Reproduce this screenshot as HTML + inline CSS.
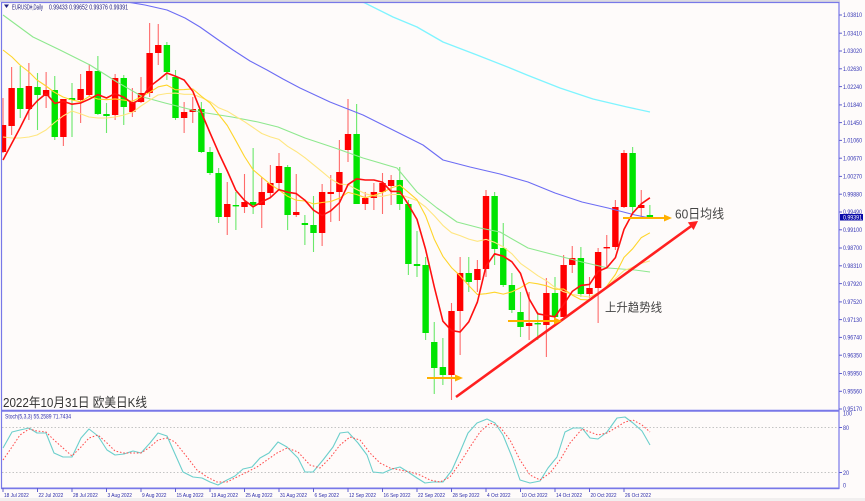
<!DOCTYPE html>
<html><head><meta charset="utf-8">
<style>
html,body{margin:0;padding:0;background:#fefbfa;}
svg{display:block;}
text{font-family:"Liberation Sans","Noto Sans CJK SC",sans-serif;}
</style></head><body>
<svg id="c" width="865" height="501" viewBox="0 0 865 501" xmlns="http://www.w3.org/2000/svg">
<defs>
<clipPath id="cm"><rect x="2" y="3" width="837" height="407"/></clipPath>
<clipPath id="cs"><rect x="2" y="412" width="837" height="76"/></clipPath>
</defs>
<rect x="0" y="0" width="865" height="501" fill="#fefbfa"/>
<rect x="0" y="498" width="865" height="3" fill="#f1efef"/>

<g clip-path="url(#cm)">
  <g id="cand"></g>
  <g id="ma"></g>
</g>

<!-- stoch levels -->
<line x1="2" y1="427.5" x2="839" y2="427.5" stroke="#c4c4c4" stroke-width="1" stroke-dasharray="1.5,2"/>
<line x1="2" y1="472.5" x2="839" y2="472.5" stroke="#c4c4c4" stroke-width="1" stroke-dasharray="1.5,2"/>
<g clip-path="url(#cs)" id="st"></g>

<!-- borders -->
<line x1="0" y1="1" x2="840" y2="1" stroke="#b8b8c8" stroke-width="1"/>
<rect x="1.5" y="2.5" width="837.5" height="486" fill="none" stroke="#7878e8" stroke-width="1.2"/>
<line x1="1.5" y1="410.8" x2="839" y2="410.8" stroke="#7878e8" stroke-width="2"/>
<line x1="1.5" y1="488.3" x2="839" y2="488.3" stroke="#7878e8" stroke-width="1.6"/>

<!-- header -->
<polygon points="4,4.5 9,4.5 6.5,8" fill="#202080"/>
<text x="12" y="9.5" font-size="7" fill="#202080" textLength="31" lengthAdjust="spacingAndGlyphs">EURUSD#,Daily</text>
<text x="49" y="9.5" font-size="7" fill="#202080" textLength="79" lengthAdjust="spacingAndGlyphs">0.99433 0.99652 0.99376 0.99391</text>

<!-- title -->
<text x="3" y="407" font-size="13" fill="#333333" textLength="144" lengthAdjust="spacingAndGlyphs">2022年10月31日 欧美日K线</text>

<!-- annotations -->
<g id="ann"></g>
<text x="675" y="218.5" font-size="13" fill="#444444" textLength="49" lengthAdjust="spacingAndGlyphs">60日均线</text>
<text x="605" y="311.5" font-size="12" fill="#444444" textLength="57" lengthAdjust="spacingAndGlyphs">上升趋势线</text>

<!-- stoch label -->
<text x="5" y="418.5" font-size="6" fill="#3030b0" textLength="66" lengthAdjust="spacingAndGlyphs">Stoch(5,3,3) 55.2589 71.7434</text>

<!-- price axis -->
<g stroke="#6060d0" stroke-width="1" id="ticks"></g>
<g font-size="6" fill="#3535b5">
<text x="843" y="17.2" textLength="19" lengthAdjust="spacingAndGlyphs">1.03810</text>
<text x="843" y="35.4" textLength="19" lengthAdjust="spacingAndGlyphs">1.03410</text>
<text x="843" y="53.2" textLength="19" lengthAdjust="spacingAndGlyphs">1.03020</text>
<text x="843" y="71" textLength="19" lengthAdjust="spacingAndGlyphs">1.02630</text>
<text x="843" y="88.8" textLength="19" lengthAdjust="spacingAndGlyphs">1.02240</text>
<text x="843" y="107.1" textLength="19" lengthAdjust="spacingAndGlyphs">1.01840</text>
<text x="843" y="124.8" textLength="19" lengthAdjust="spacingAndGlyphs">1.01450</text>
<text x="843" y="142.6" textLength="19" lengthAdjust="spacingAndGlyphs">1.01060</text>
<text x="843" y="160.4" textLength="19" lengthAdjust="spacingAndGlyphs">1.00670</text>
<text x="843" y="178.6" textLength="19" lengthAdjust="spacingAndGlyphs">1.00270</text>
<text x="843" y="196.4" textLength="19" lengthAdjust="spacingAndGlyphs">0.99880</text>
<text x="843" y="214.2" textLength="19" lengthAdjust="spacingAndGlyphs">0.99490</text>
<text x="843" y="232" textLength="19" lengthAdjust="spacingAndGlyphs">0.99100</text>
<text x="843" y="250.2" textLength="19" lengthAdjust="spacingAndGlyphs">0.98700</text>
<text x="843" y="268" textLength="19" lengthAdjust="spacingAndGlyphs">0.98310</text>
<text x="843" y="285.8" textLength="19" lengthAdjust="spacingAndGlyphs">0.97920</text>
<text x="843" y="304.1" textLength="19" lengthAdjust="spacingAndGlyphs">0.97520</text>
<text x="843" y="321.8" textLength="19" lengthAdjust="spacingAndGlyphs">0.97130</text>
<text x="843" y="339.6" textLength="19" lengthAdjust="spacingAndGlyphs">0.96740</text>
<text x="843" y="357.4" textLength="19" lengthAdjust="spacingAndGlyphs">0.96350</text>
<text x="843" y="375.7" textLength="19" lengthAdjust="spacingAndGlyphs">0.95950</text>
<text x="843" y="393.5" textLength="19" lengthAdjust="spacingAndGlyphs">0.95560</text>
<text x="843" y="411.2" textLength="19" lengthAdjust="spacingAndGlyphs">0.95170</text>
<text x="843" y="415.5" textLength="9" lengthAdjust="spacingAndGlyphs">100</text>
<text x="843" y="430" textLength="6" lengthAdjust="spacingAndGlyphs">80</text>
<text x="843" y="475" textLength="6" lengthAdjust="spacingAndGlyphs">20</text>
<text x="843" y="487.5" textLength="3" lengthAdjust="spacingAndGlyphs">0</text>
</g>
<rect x="840" y="214" width="23" height="6.5" fill="#0a0aa8"/>
<text x="843" y="219.4" font-size="6" fill="#ffffff" textLength="19" lengthAdjust="spacingAndGlyphs">0.99391</text>

<!-- date axis -->
<g font-size="5.8" fill="#2a2aa8">
<text x="4" y="497" textLength="24.8" lengthAdjust="spacingAndGlyphs">18 Jul 2022</text>
<text x="38.5" y="497" textLength="24.8" lengthAdjust="spacingAndGlyphs">22 Jul 2022</text>
<text x="73" y="497" textLength="24.8" lengthAdjust="spacingAndGlyphs">28 Jul 2022</text>
<text x="107.5" y="497" textLength="24.5" lengthAdjust="spacingAndGlyphs">3 Aug 2022</text>
<text x="142" y="497" textLength="24.5" lengthAdjust="spacingAndGlyphs">9 Aug 2022</text>
<text x="176.5" y="497" textLength="27" lengthAdjust="spacingAndGlyphs">15 Aug 2022</text>
<text x="211" y="497" textLength="27" lengthAdjust="spacingAndGlyphs">19 Aug 2022</text>
<text x="245.5" y="497" textLength="27" lengthAdjust="spacingAndGlyphs">25 Aug 2022</text>
<text x="280" y="497" textLength="27" lengthAdjust="spacingAndGlyphs">31 Aug 2022</text>
<text x="314.5" y="497" textLength="24.5" lengthAdjust="spacingAndGlyphs">6 Sep 2022</text>
<text x="349" y="497" textLength="27" lengthAdjust="spacingAndGlyphs">12 Sep 2022</text>
<text x="383.5" y="497" textLength="27" lengthAdjust="spacingAndGlyphs">16 Sep 2022</text>
<text x="418" y="497" textLength="27" lengthAdjust="spacingAndGlyphs">22 Sep 2022</text>
<text x="452.5" y="497" textLength="27" lengthAdjust="spacingAndGlyphs">28 Sep 2022</text>
<text x="487" y="497" textLength="23.5" lengthAdjust="spacingAndGlyphs">4 Oct 2022</text>
<text x="521.5" y="497" textLength="26" lengthAdjust="spacingAndGlyphs">10 Oct 2022</text>
<text x="556" y="497" textLength="26" lengthAdjust="spacingAndGlyphs">14 Oct 2022</text>
<text x="590.5" y="497" textLength="26" lengthAdjust="spacingAndGlyphs">20 Oct 2022</text>
<text x="625" y="497" textLength="26" lengthAdjust="spacingAndGlyphs">26 Oct 2022</text>
</g>
</svg>
<script>
(function(){
const ns='http://www.w3.org/2000/svg';
function el(tag,a,p){const e=document.createElementNS(ns,tag);for(const k in a)e.setAttribute(k,a[k]);p.appendChild(e);return e;}
const D=[
[125,152,98,153,1],[88,126,67,135,1],[88,109,66,118,0],[86,109,63,120,1],[87,95,73,130,0],
[90,96,72,108,1],[90,137,76,140,0],[99,137,99,146,1],[98,100,83,137,0],[89,100,74,123,1],
[71,95,64,97,1],[71,114,56,115,0],[114,116,103,133,0],[78,115,74,120,1],[78,107,75,125,0],
[102,112,88,117,1],[93,102,77,103,1],[53,93,23,97,1],[45,53,24,65,1],[45,72,42,80,0],
[77,118,70,120,0],[112,118,102,133,1],[109,112,97,123,1],[109,152,102,153,0],[152,173,147,175,0],
[173,217,168,223,0],[204,217,182,235,1],[205,206,192,230,0],[202,207,174,213,1],[202,205,148,214,0],
[192,205,177,228,1],[183,193,165,197,1],[166,183,153,190,1],[167,215,165,230,0],[212,215,174,217,1],
[223,225,215,245,0],[225,233,196,252,0],[192,233,184,246,1],[192,194,175,222,1],[172,192,140,221,1],
[134,150,99,162,1],[134,204,104,204,0],[198,204,192,210,1],[192,198,183,210,1],[183,192,173,214,1],
[180,186,175,205,1],[180,204,167,210,0],[204,264,200,275,0],[264,266,231,277,0],[265,333,257,340,0],
[342,368,322,394,0],[367,375,338,385,0],[311,375,303,400,1],[273,311,257,355,1],[273,282,257,292,0],
[269,280,260,292,1],[196,269,190,277,1],[196,249,192,265,0],[248,285,223,287,0],[285,310,273,313,0],
[312,327,292,337,0],[323,326,292,340,1],[323,324,312,340,0],[293,325,278,357,1],[293,317,277,320,0],
[265,317,255,317,1],[258,265,246,273,1],[258,294,247,297,0],[288,294,277,298,1],[252,288,248,323,1],
[247,248,235,268,1],[207,247,200,250,1],[153,207,150,208,1],[153,207,147,215,0],[205,208,190,218,1],
[215,217,205,217,0]];
const X=i=>3+8.625*i;
const g=document.getElementById('cand');
D.forEach((d,i)=>{const x=X(i);
 el('line',{x1:x,x2:x,y1:d[2],y2:d[3],stroke:d[4]?'#ff6a6a':'#6ae86a','stroke-width':1.1},g);
 const h=Math.max(d[1]-d[0],1.4);
 el('rect',{x:x-3.2,y:d[0],width:6.4,height:h,fill:d[4]?'#ff0000':'#00e400'},g);
});
const cl=D.map(d=>d[4]?d[0]:d[1]);
function sma(n,i){let s=0;for(let k=i-n+1;k<=i;k++)s+=cl[k];return s/n;}
function build(pre,n,start){const p=pre.slice();for(let i=start;i<D.length;i++)p.push([X(i),sma(n,i)]);return p;}
const ma5=build([[3,160],[12,143],[20,128],[29,110]],5,4);
const ma10=build([[3,50],[12,57],[20,65],[29,72],[37,80],[46,86],[54,92],[63,97],[72,100]],10,9);
const ma20=build([[3,137],[12,138],[20,138],[29,137],[37,135],[46,130],[54,123],[63,116],[72,111],[81,114],[89,117],[98,118],[107,118],[115,117],[124,115],[133,112],[141,106],[150,100],[158,95]],20,19);
const green=[[3,15],[33,37],[60,50],[90,65],[117,82],[143,97],[165,103],[173,105],[200,112],[232,117],[258,122],[278,127],[305,138],[335,148],[363,158],[397,168],[417,192],[437,208],[457,222],[480,228],[500,232],[528,248],[555,255],[582,262],[608,268],[635,270],[650,272]];
const blue=[[120,0],[127,2],[145,5],[167,10],[185,18],[200,27],[217,39],[233,50],[250,61],[267,70],[283,79],[300,88],[330,102],[363,115],[397,132],[423,145],[443,160],[470,167],[500,174],[528,182],[555,193],[582,202],[608,208],[635,215],[650,218]];
const cyan=[[360,1],[365,3],[393,17],[417,27],[443,42],[477,55],[510,68],[527,75],[560,88],[593,99],[627,107],[650,112]];
const m=document.getElementById('ma');
function pl(pts,col,w,p,extra){const a={points:pts.map(q=>q[0].toFixed(1)+','+q[1].toFixed(1)).join(' '),fill:'none',stroke:col,'stroke-width':w,'stroke-linejoin':'round'};if(extra)Object.assign(a,extra);return el('polyline',a,p);}
pl(cyan,'#7ff4ff',1.3,m);
pl(blue,'#6c6cf4',1.1,m);
pl(green,'#8ee88e',1.1,m);
pl(ma20,'#ffe680',1.1,m);
pl(ma10,'#ffd52a',1.1,m);
pl(ma5,'#ff1010',1.6,m);
// stochastic
const K=[[3,448],[12,432],[20,430],[29,428],[37,433],[46,433],[54,453],[63,457],[72,457],[81,438],[89,429],[98,436],[107,450],[115,455],[124,454],[133,451],[141,453],[150,443],[158,433],[167,436],[175,454],[183,472],[193,477],[202,478],[210,482],[218,485],[227,480],[235,476],[243,469],[252,467],[260,458],[269,453],[278,442],[287,447],[298,458],[305,472],[313,472],[323,460],[333,447],[340,433],[348,432],[358,443],[367,455],[373,472],[383,473],[392,469],[400,467],[408,472],[417,478],[425,483],[433,482],[443,482],[452,470],[460,452],[468,433],[477,423],[487,419],[495,423],[503,435],[512,457],[520,480],[530,483],[540,481],[548,468],[557,457],[565,432],[573,428],[582,428],[590,438],[598,439],[607,432],[617,418],[625,417],[633,423],[642,431],[650,445]];
const Dd=[[3,460],[12,447],[20,435],[29,429],[37,431],[46,432],[54,440],[63,448],[72,456],[81,447],[89,438],[98,435],[107,443],[115,451],[124,453],[133,453],[141,453],[150,447],[158,440],[167,438],[175,442],[187,457],[197,470],[207,477],[217,482],[227,482],[237,477],[247,472],[257,467],[267,460],[277,453],[287,448],[298,452],[310,465],[320,468],[330,458],[340,445],[350,437],[360,440],[370,453],[380,463],[390,468],[400,470],[410,472],[420,475],[430,480],[440,482],[450,477],[460,463],[470,447],[480,432],[490,423],[500,427],[510,440],[520,460],[530,475],[540,480],[550,473],[560,460],[570,443],[582,429],[590,432],[598,435],[607,433],[617,427],[625,422],[633,420],[642,425],[650,432]];
const s=document.getElementById('st');
pl(K,'#6ccfcc',1.1,s);
pl(Dd,'#ff4a4a',1,s,{'stroke-dasharray':'1.6,1.8'});
// annotations
const a=document.getElementById('ann');
el('line',{x1:456,y1:397,x2:692,y2:225.5,stroke:'#ff2020','stroke-width':2.6},a);
el('polygon',{points:'698,221 693.6,230 687.8,222.4',fill:'#ff2020'},a);
const org='#ffb000';
el('line',{x1:427,y1:378,x2:457,y2:378,stroke:org,'stroke-width':2},a);
el('polygon',{points:'455,374.5 463,378 455,381.5',fill:org},a);
el('line',{x1:508,y1:321,x2:556,y2:321,stroke:org,'stroke-width':2},a);
el('polygon',{points:'554,317.5 562,321 554,324.5',fill:org},a);
el('line',{x1:623,y1:218,x2:666,y2:218,stroke:org,'stroke-width':2},a);
el('polygon',{points:'664,214.5 672,218 664,221.5',fill:org},a);
// axis ticks
const t=document.getElementById('ticks');
[15,33.2,51,68.8,86.6,104.9,122.6,140.4,158.2,176.4,194.2,212,229.8,248,265.8,283.6,301.9,319.6,337.4,355.2,373.5,391.3,409,427.5,472.5].forEach(y=>el('line',{x1:839,x2:842,y1:y,y2:y},t));
[3,37.5,72,106.5,141,175.5,210,244.5,279,313.5,348,382.5,417,451.5,486,520.5,555,589.5,624].forEach(x=>el('line',{x1:x,x2:x,y1:488,y2:492},t));
})();
</script>
</body></html>
